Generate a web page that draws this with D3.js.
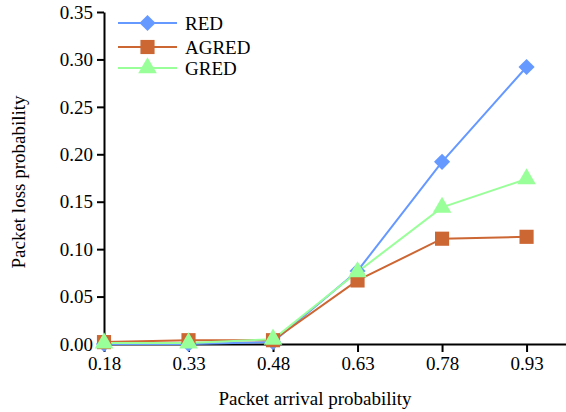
<!DOCTYPE html>
<html>
<head>
<meta charset="utf-8">
<script src="https://cdn.jsdelivr.net/npm/d3@7"></script>
<style>
  body { margin: 0; background: #fff; }
  text { font-family: "Liberation Serif", "Times New Roman", serif; }
</style>
</head>
<body>
<svg id="chart" width="566" height="412"></svg>
<script>
// data
const arrival = [0.18, 0.33, 0.48, 0.63, 0.78, 0.93];
const red = [0.000, 0.000, 0.002, 0.077, 0.192, 0.292];
const agred = [0.002, 0.004, 0.004, 0.067, 0.111, 0.113];
const gred = [0.001, 0.001, 0.005, 0.076, 0.144, 0.174];
const yTicks = [0, 0.05, 0.10, 0.15, 0.20, 0.25, 0.30, 0.35];

const diamond = {
  draw(ctx, size) {
    // plain square turned 45 degrees
    const r = Math.sqrt(size / 2);
    ctx.moveTo(0, -r); ctx.lineTo(r, 0); ctx.lineTo(0, r); ctx.lineTo(-r, 0); ctx.closePath();
  }
};

const series = [
  {name: "RED", values: red, color: "#6699ff", symbol: diamond, size: 130},
  {name: "AGRED", values: agred, color: "#cc6633", symbol: d3.symbolSquare, size: 200},
  {name: "GRED", values: gred, color: "#99ff99", symbol: d3.symbolTriangle, size: 150}
];

const svg = d3.select("#chart");
const margin = {left: 104, top: 12, bottom: 68};
const width = 566, height = 412;
const fontSize = "19px";

// x runs a bit past the last category so the axis reaches the edge
const x = d3.scaleLinear().domain([0.18, 1.0]).range([margin.left, width]);
const y = d3.scaleLinear().domain([0, 0.35]).range([height - margin.bottom, margin.top]);

const xAxis = svg.append("g")
  .attr("transform", `translate(0,${height - margin.bottom})`)
  .call(d3.axisBottom(x).tickValues(arrival).tickFormat(d3.format(".2f")).tickSize(8).tickSizeOuter(0));
const yAxis = svg.append("g")
  .attr("transform", `translate(${margin.left},0)`)
  .call(d3.axisLeft(y).tickValues(yTicks).tickFormat(d3.format(".2f")).tickSize(7).tickSizeOuter(0));

[xAxis, yAxis].forEach(a => {
  a.select(".domain").attr("stroke", "#000").attr("stroke-width", 2);
  a.selectAll(".tick line").attr("stroke", "#000").attr("stroke-width", 2);
  a.selectAll(".tick text")
    .attr("fill", "#000")
    .style("font-size", fontSize)
    .style("font-family", "Liberation Serif, serif");
});
xAxis.selectAll(".tick text").attr("y", 13).attr("dy", "0.71em");
yAxis.selectAll(".tick text").attr("x", -11).attr("dy", "0.33em");

// axis titles
svg.append("text")
  .attr("x", 315).attr("y", 405)
  .attr("text-anchor", "middle")
  .style("font-size", fontSize)
  .text("Packet arrival probability");
svg.append("text")
  .attr("transform", "translate(25,182) rotate(-90)")
  .attr("text-anchor", "middle")
  .style("font-size", fontSize)
  .text("Packet loss probability");

const line = d3.line().x((d, i) => x(arrival[i])).y(d => y(d));

series.forEach(s => {
  svg.append("path")
    .datum(s.values)
    .attr("fill", "none")
    .attr("stroke", s.color)
    .attr("stroke-width", 2)
    .attr("d", line);
});
series.forEach(s => {
  svg.append("g").selectAll("path")
    .data(s.values)
    .join("path")
    .attr("transform", (d, i) => `translate(${x(arrival[i])},${y(d)})`)
    .attr("d", d3.symbol().type(s.symbol).size(s.size))
    .attr("fill", s.color);
});

// legend
const legend = svg.append("g");
const rowY = [23, 47, 68];
series.forEach((s, i) => {
  const g = legend.append("g").attr("transform", `translate(118,${rowY[i]})`);
  g.append("line").attr("x1", 0).attr("x2", 59)
    .attr("stroke", s.color).attr("stroke-width", 2);
  g.append("path")
    .attr("transform", "translate(29.5,0)")
    .attr("d", d3.symbol().type(s.symbol).size(s.size))
    .attr("fill", s.color);
  g.append("text")
    .attr("x", 67).attr("dy", "0.35em")
    .style("font-size", fontSize)
    .text(s.name);
});
</script>
</body>
</html>
